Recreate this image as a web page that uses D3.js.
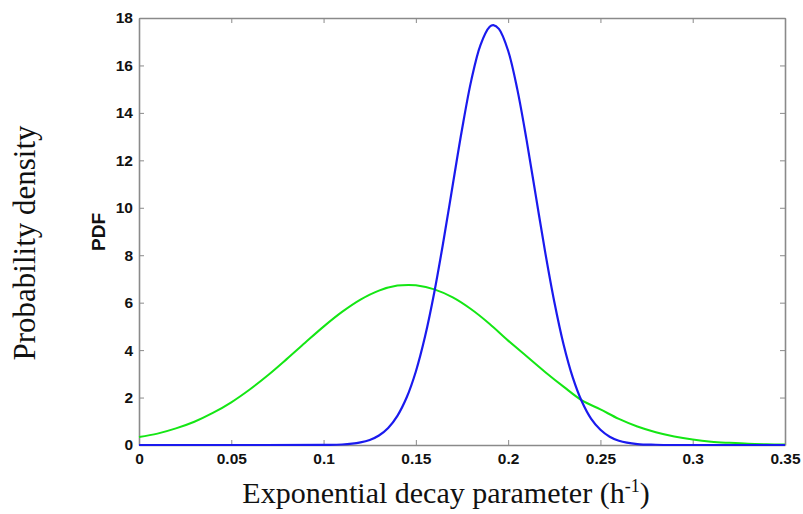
<!DOCTYPE html>
<html>
<head>
<meta charset="utf-8">
<script src="https://cdn.jsdelivr.net/npm/d3@7"></script>
<style>
  body { margin: 0; background: #fff; }
  .axis path, .axis line { stroke: #8a8a8a; }
  .axis text { font-family: 'Liberation Sans', Arial, sans-serif; font-weight: bold; font-size: 15.5px; fill: #111; }
</style>
</head>
<body>
<div id="chart"></div>
<script>
// Tick values and labels
const xTicks = [0, 0.05, 0.1, 0.15, 0.2, 0.25, 0.3, 0.35]
const xTickLabels = ['0', '0.05', '0.1', '0.15', '0.2', '0.25', '0.3', '0.35']
const yTicks = [0, 2, 4, 6, 8, 10, 12, 14, 16, 18]

// Green curve
const greenX = [0, 0.01, 0.02, 0.03, 0.04, 0.05, 0.06, 0.07, 0.08, 0.09, 0.1, 0.11, 0.12, 0.13, 0.14, 0.146, 0.15,
  0.16, 0.17, 0.18, 0.19, 0.2, 0.21, 0.22, 0.23, 0.24, 0.25, 0.26, 0.27, 0.28, 0.29, 0.3, 0.31, 0.32, 0.33, 0.34, 0.35]
const greenY = [0.34, 0.48, 0.70, 0.98, 1.35, 1.80, 2.34, 2.95, 3.62, 4.31, 4.99, 5.61, 6.13, 6.51, 6.72, 6.75, 6.73,
  6.56, 6.22, 5.72, 5.10, 4.40, 3.74, 3.08, 2.46, 1.88, 1.50, 1.10, 0.78, 0.54, 0.36, 0.23, 0.14, 0.09, 0.05, 0.03, 0.02]

// Blue curve
const blueX = [0, 0.05, 0.1, 0.11, 0.12, 0.125, 0.13, 0.135, 0.14, 0.145, 0.15, 0.155, 0.16, 0.165, 0.17, 0.175,
  0.18, 0.185, 0.19, 0.192, 0.195, 0.2, 0.205, 0.21, 0.215, 0.22, 0.225, 0.23, 0.235, 0.24, 0.245, 0.25, 0.255, 0.26,
  0.27, 0.28, 0.29, 0.3, 0.35]
const blueY = [0, 0, 0.004, 0.02, 0.11, 0.21, 0.40, 0.72, 1.23, 2.00, 3.10, 4.58, 6.44, 8.62, 10.97, 13.30,
  15.36, 16.86, 17.63, 17.70, 17.54, 16.62, 14.98, 12.85, 10.50, 8.16, 6.04, 4.25, 2.85, 1.82, 1.10, 0.64, 0.35, 0.18,
  0.04, 0.01, 0, 0, 0]

const width = 803
const height = 514
const margin = { top: 18, right: 18, bottom: 69, left: 139 }
const plotW = width - margin.left - margin.right
const plotH = height - margin.top - margin.bottom

const svg = d3.select('#chart').append('svg')
  .attr('width', width)
  .attr('height', height)

const g = svg.append('g')
  .attr('transform', `translate(${margin.left}, ${margin.top})`)

const xScale = d3.scaleLinear().domain([0, 0.35]).range([0, plotW])
const yScale = d3.scaleLinear().domain([0, 18]).range([plotH, 0])

// Bottom axis with labels, ticks pointing inward
g.append('g')
  .attr('class', 'axis')
  .attr('transform', `translate(0, ${plotH})`)
  .call(d3.axisBottom(xScale).tickValues(xTicks).tickFormat((d, i) => xTickLabels[i]).tickSizeInner(-5).tickSizeOuter(0).tickPadding(8))

// Left axis
g.append('g')
  .attr('class', 'axis')
  .call(d3.axisLeft(yScale).tickValues(yTicks).tickSizeInner(-5).tickSizeOuter(0).tickPadding(6))

// Top and right axes, ticks only
g.append('g')
  .attr('class', 'axis')
  .call(d3.axisTop(xScale).tickValues(xTicks).tickFormat('').tickSizeInner(-5).tickSizeOuter(0))
g.append('g')
  .attr('class', 'axis')
  .attr('transform', `translate(${plotW}, 0)`)
  .call(d3.axisRight(yScale).tickValues(yTicks).tickFormat('').tickSizeInner(-5).tickSizeOuter(0))

g.selectAll('.axis path').attr('stroke-width', 1.6)

// Draw the curves
const line = d3.line()
  .x(d => xScale(d[0]))
  .y(d => yScale(Math.max(d[1], 0)))
  .curve(d3.curveCatmullRom.alpha(0.5))

g.append('path')
  .datum(greenX.map((x, i) => [x, greenY[i]]))
  .attr('d', line)
  .attr('fill', 'none')
  .attr('stroke', '#14e614')
  .attr('stroke-width', 2)

g.append('path')
  .datum(blueX.map((x, i) => [x, blueY[i]]))
  .attr('d', line)
  .attr('fill', 'none')
  .attr('stroke', '#1a1aee')
  .attr('stroke-width', 2.2)

// Inner "PDF" label
svg.append('text')
  .attr('transform', 'translate(105, 232) rotate(-90)')
  .attr('text-anchor', 'middle')
  .style('font-family', "'Liberation Sans', Arial, sans-serif")
  .style('font-size', '19px')
  .style('font-weight', 'bold')
  .style('fill', '#111')
  .text('PDF')

// Outer labels (serif)
svg.append('text')
  .attr('transform', 'translate(35, 243) rotate(-90)')
  .attr('text-anchor', 'middle')
  .style('font-family', "'Liberation Serif', 'Times New Roman', serif")
  .style('font-size', '31px')
  .style('fill', '#111')
  .text('Probability density')

const xLabel = svg.append('text')
  .attr('x', 446)
  .attr('y', 503)
  .attr('text-anchor', 'middle')
  .style('font-family', "'Liberation Serif', 'Times New Roman', serif")
  .style('font-size', '30px')
  .style('fill', '#111')
xLabel.append('tspan').text('Exponential decay parameter (h')
xLabel.append('tspan').attr('dy', -11).style('font-size', '18px').text('-1')
xLabel.append('tspan').attr('dy', 11).text(')')
</script>
</body>
</html>
